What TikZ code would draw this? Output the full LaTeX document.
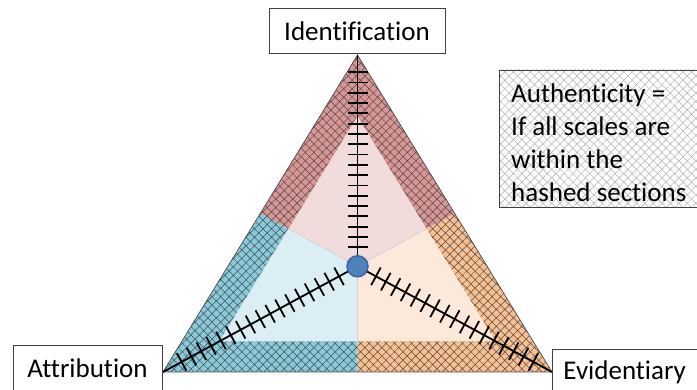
\documentclass[tikz,border=0pt]{standalone}
\usepackage{fontspec}
\setmainfont{Carlito}[Ligatures=NoCommon]
\usetikzlibrary{calc,patterns.meta}
\definecolor{pinkD}{HTML}{D99694}
\definecolor{pinkL}{HTML}{F2DCDB}
\definecolor{blueD}{HTML}{86CADB}
\definecolor{blueL}{HTML}{DAEEF3}
\definecolor{orangeD}{HTML}{F9BF8F}
\definecolor{orangeL}{HTML}{FDE9D9}
\definecolor{dotfill}{HTML}{4F81BD}
\definecolor{dotline}{HTML}{3A66A0}
\begin{document}
\begin{tikzpicture}[x=1pt,y=-1pt,
  hatchband/.style={pattern={Hatch[angle=45,distance=6pt,line width=0.5pt]},pattern color=black!70},
  lighthatch/.style={pattern={Hatch[angle=45,distance=6pt,line width=0.5pt]},pattern color=black!30},
  scaleline/.style={line width=1.8pt,black},
  tickline/.style={line width=1.8pt,black},
  lab/.style={draw=black!75,line width=0.9pt,fill=white,inner sep=0pt,font={\fontsize{27}{33}\selectfont}},
  dot/.style={circle,fill=dotfill,draw=dotline,line width=1.5pt,minimum size=21pt,inner sep=0pt},
  divider/.style={black!20,line width=0.5pt}]
\useasboundingbox (0,0) rectangle (697,390);
% vertices
\coordinate (A) at (357.5,55);
\coordinate (B) at (163,372);
\coordinate (C) at (552,372);
\coordinate (O) at (357.5,266.3);
\coordinate (AB) at ($(A)!0.5!(B)$);
\coordinate (AC) at ($(A)!0.5!(C)$);
\coordinate (BC) at ($(B)!0.5!(C)$);
\coordinate (iA) at ($(O)!0.71!(A)$);
\coordinate (iB) at ($(O)!0.71!(B)$);
\coordinate (iC) at ($(O)!0.71!(C)$);
\coordinate (iAB) at ($(O)!0.71!(AB)$);
\coordinate (iAC) at ($(O)!0.71!(AC)$);
\coordinate (iBC) at ($(O)!0.71!(BC)$);
% outer bands
\fill[pinkD] (A) -- (AB) -- (O) -- (AC) -- cycle;
\fill[blueD] (B) -- (BC) -- (O) -- (AB) -- cycle;
\fill[orangeD] (C) -- (AC) -- (O) -- (BC) -- cycle;
\fill[hatchband] (A) -- (B) -- (C) -- cycle;
% inner light regions
\fill[pinkL] (iA) -- (iAB) -- (O) -- (iAC) -- cycle;
\fill[blueL] (iB) -- (iBC) -- (O) -- (iAB) -- cycle;
\fill[orangeL] (iC) -- (iAC) -- (O) -- (iBC) -- cycle;
\draw[divider] (O) -- (iAB);
\draw[divider] (O) -- (iAC);
\draw[divider] (O) -- (iBC);
% outline
\draw[black!70,line width=0.7pt] (A) -- (B) -- (C) -- cycle;
% scales
\draw[scaleline] (O) -- (A);
\draw[scaleline] (O) -- (B);
\draw[scaleline] (O) -- (C);
\foreach \i in {0,...,17}{
  \pgfmathsetmacro\d{19+\i*10.3}
  \draw[tickline] ($(O)!\d pt!(A)!10pt!90:(A)$) -- ($(O)!\d pt!(A)!10pt!-90:(A)$);
}
\foreach \i in {0,...,16}{
  \pgfmathsetmacro\d{21+\i*11.2}
  \draw[tickline] ($(O)!\d pt!(B)!10pt!90:(B)$) -- ($(O)!\d pt!(B)!10pt!-90:(B)$);
  \draw[tickline] ($(O)!\d pt!(C)!10pt!90:(C)$) -- ($(O)!\d pt!(C)!10pt!-90:(C)$);
}
\node[dot] (center) at (O) {};
% labels
\node[lab,minimum width=176pt,minimum height=45pt] (ident) at (357,31) {Identification};
\node[lab,minimum width=149pt,minimum height=46pt] (attr) at (87.5,368) {Attribution};
\node[lab,anchor=west,minimum height=46pt,text width=140pt,align=left,inner xsep=11pt] (evid) at (552,372) {Evidentiary};
% authenticity box
\node[draw=black!75,line width=0.9pt,fill=white,minimum width=198pt,minimum height=137pt,anchor=north west,inner sep=0pt] (authbox) at (499,70) {};
\fill[lighthatch] (authbox.north west) rectangle (authbox.south east);
\draw[black!75,line width=0.9pt] (authbox.north west) rectangle (authbox.south east);
\node[anchor=north west,inner sep=0pt,align=left,font={\fontsize{27}{33}\selectfont}] (authtext) at (511,84) {Authenticity =\\If all scales are\\within the\\hashed sections};
\end{tikzpicture}
\end{document}
